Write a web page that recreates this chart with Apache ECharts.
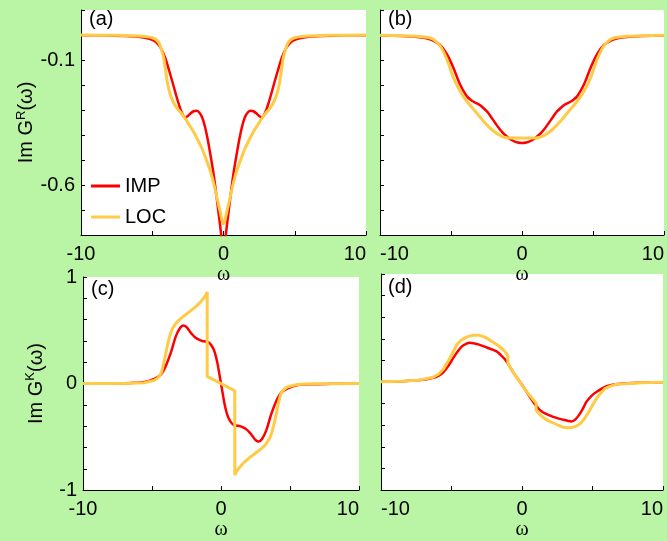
<!DOCTYPE html>
<html>
<head>
<meta charset="utf-8">
<script src="https://cdn.jsdelivr.net/npm/echarts@6/dist/echarts.min.js"></script>
<style>
html,body{margin:0;padding:0;background:#b9f5a4;}
#c{width:667px;height:541px;}
</style>
</head>
<body>
<div id="c"></div>
<script>
// ---- data (omega, value) ----
const a_IMP = [[-10,-0.001],[-8,-0.002],[-7,-0.004],[-6,-0.007],[-5.5,-0.011],[-5,-0.019],[-4.7,-0.03],[-4.4,-0.052],[-4.1,-0.09],[-3.8,-0.145],[-3.5,-0.205],[-3.2,-0.265],[-2.95,-0.307],[-2.7,-0.33],[-2.5,-0.324],[-2.3,-0.313],[-2.1,-0.305],[-1.9,-0.303],[-1.7,-0.31],[-1.5,-0.329],[-1.3,-0.367],[-1.1,-0.42],[-0.9,-0.485],[-0.7,-0.555],[-0.5,-0.64],[-0.35,-0.71],[-0.2,-0.78],[-0.1,-0.83],[0,-0.86],
  [0.1,-0.83],[0.2,-0.78],[0.35,-0.71],[0.5,-0.64],[0.7,-0.555],[0.9,-0.485],[1.1,-0.42],[1.3,-0.367],[1.5,-0.329],[1.7,-0.31],[1.9,-0.303],[2.1,-0.305],[2.3,-0.313],[2.5,-0.324],[2.7,-0.33],[2.95,-0.307],[3.2,-0.265],[3.5,-0.205],[3.8,-0.145],[4.1,-0.09],[4.4,-0.052],[4.7,-0.03],[5,-0.019],[5.5,-0.011],[6,-0.007],[7,-0.004],[8,-0.002],[10,-0.001]];
const a_LOC = [[-10,0],[-8,-0.001],[-7,-0.002],[-6,-0.004],[-5.5,-0.006],[-5,-0.011],[-4.7,-0.02],[-4.5,-0.035],[-4.35,-0.06],[-4.2,-0.09],[-4.07,-0.14],[-3.92,-0.195],[-3.75,-0.235],[-3.55,-0.265],[-3.3,-0.29],[-3.0,-0.31],[-2.7,-0.333],[-2.4,-0.36],[-2.1,-0.387],[-1.8,-0.42],[-1.5,-0.455],[-1.2,-0.5],[-0.94,-0.541],[-0.7,-0.59],[-0.5,-0.64],[-0.26,-0.70],[0,-0.756],
  [0.26,-0.70],[0.5,-0.64],[0.7,-0.59],[0.94,-0.541],[1.2,-0.5],[1.5,-0.455],[1.8,-0.42],[2.1,-0.387],[2.4,-0.36],[2.7,-0.333],[3.0,-0.31],[3.3,-0.29],[3.55,-0.265],[3.75,-0.235],[3.92,-0.195],[4.07,-0.14],[4.2,-0.09],[4.35,-0.06],[4.5,-0.035],[4.7,-0.02],[5,-0.011],[5.5,-0.006],[6,-0.004],[7,-0.002],[8,-0.001],[10,0]];
const b_IMP = [[-10,-0.002],[-8.5,-0.004],[-7.2,-0.009],[-6.6,-0.015],[-6.25,-0.023],[-5.77,-0.04],[-5.3,-0.076],[-4.84,-0.13],[-4.37,-0.197],[-3.9,-0.244],[-3.6,-0.26],[-3.31,-0.27],[-3.0,-0.279],[-2.72,-0.292],[-2.4,-0.31],[-2.14,-0.331],[-1.85,-0.355],[-1.55,-0.378],[-1.25,-0.397],[-0.96,-0.411],[-0.6,-0.424],[-0.3,-0.43],[0,-0.432],
  [0.3,-0.43],[0.6,-0.424],[0.96,-0.411],[1.25,-0.397],[1.55,-0.378],[1.85,-0.355],[2.14,-0.331],[2.4,-0.31],[2.72,-0.292],[3.0,-0.279],[3.31,-0.27],[3.6,-0.26],[3.9,-0.244],[4.37,-0.197],[4.84,-0.13],[5.3,-0.076],[5.77,-0.04],[6.25,-0.023],[6.6,-0.015],[7.2,-0.009],[8.5,-0.004],[10,-0.002]];
const b_LOC = [[-10,-0.001],[-8.5,-0.003],[-7.2,-0.006],[-6.6,-0.01],[-6.25,-0.017],[-5.77,-0.043],[-5.3,-0.096],[-4.84,-0.17],[-4.37,-0.224],[-3.9,-0.264],[-3.31,-0.304],[-2.72,-0.344],[-2.14,-0.378],[-1.55,-0.402],[-1.2,-0.41],[-0.95,-0.412],[0,-0.412],
  [0.95,-0.412],[1.2,-0.41],[1.55,-0.402],[2.14,-0.378],[2.72,-0.344],[3.31,-0.304],[3.9,-0.264],[4.37,-0.224],[4.84,-0.17],[5.3,-0.096],[5.77,-0.043],[6.25,-0.017],[6.6,-0.01],[7.2,-0.006],[8.5,-0.003],[10,-0.001]];
const c_IMP = [[-10,0.001],[-8,0.003],[-6.5,0.006],[-5.56,0.014],[-4.84,0.044],[-4.36,0.084],[-4.0,0.166],[-3.64,0.287],[-3.28,0.44],[-2.97,0.521],[-2.73,0.545],[-2.5,0.53],[-2.32,0.5],[-2.08,0.46],[-1.84,0.43],[-1.6,0.412],[-1.36,0.40],[-1.1,0.394],[-0.88,0.385],[-0.7,0.36],[-0.52,0.317],[-0.38,0.26],[-0.24,0.18],[-0.12,0.09],[0,0],
  [0.12,-0.09],[0.24,-0.18],[0.38,-0.26],[0.52,-0.317],[0.7,-0.36],[0.88,-0.385],[1.1,-0.394],[1.36,-0.40],[1.6,-0.412],[1.84,-0.43],[2.08,-0.46],[2.32,-0.5],[2.5,-0.53],[2.73,-0.545],[2.97,-0.521],[3.28,-0.44],[3.64,-0.287],[4.0,-0.166],[4.36,-0.084],[4.84,-0.044],[5.56,-0.014],[6.5,-0.006],[8,-0.003],[10,-0.001]];
const c_LOC = [[-10,0],[-8,0.001],[-6.5,0.003],[-5.56,0.008],[-4.84,0.03],[-4.6,0.05],[-4.45,0.07],[-4.3,0.11],[-4.15,0.19],[-4.0,0.287],[-3.88,0.36],[-3.76,0.424],[-3.64,0.475],[-3.52,0.515],[-3.35,0.55],[-3.16,0.582],[-2.92,0.61],[-2.68,0.636],[-2.2,0.682],[-1.72,0.734],[-1.45,0.77],[-1.24,0.804],[-1.1,0.83],[-1.0,0.86],[-1.0,0.068],
  [1.0,-0.068],[1.0,-0.86],[1.1,-0.83],[1.24,-0.804],[1.45,-0.77],[1.72,-0.734],[2.2,-0.682],[2.68,-0.636],[2.92,-0.61],[3.16,-0.582],[3.35,-0.55],[3.52,-0.515],[3.64,-0.475],[3.76,-0.424],[3.88,-0.36],[4.0,-0.287],[4.15,-0.19],[4.3,-0.11],[4.45,-0.07],[4.6,-0.05],[4.84,-0.03],[5.56,-0.008],[6.5,-0.003],[8,-0.001],[10,0]];
const d_IMP = [[-10,0.003],[-8.5,0.008],[-7.2,0.018],[-6.3,0.039],[-5.9,0.06],[-5.58,0.09],[-5.22,0.15],[-4.87,0.224],[-4.55,0.285],[-4.28,0.328],[-4.0,0.352],[-3.69,0.364],[-3.4,0.358],[-3.1,0.349],[-2.5,0.32],[-1.8,0.284],[-1.5,0.25],[-1.2,0.209],[-0.9,0.15],[-0.62,0.09],[-0.3,0.03],[0,-0.025],[0.3,-0.085],[0.57,-0.14],[0.8,-0.185],[1.04,-0.224],[1.3,-0.262],[1.63,-0.29],[2.22,-0.322],[2.93,-0.349],[3.3,-0.36],[3.52,-0.364],[3.75,-0.35],[4.0,-0.313],[4.3,-0.25],[4.59,-0.179],[4.95,-0.125],[5.3,-0.09],[6.0,-0.039],[6.95,-0.015],[8.5,-0.006],[10,-0.003]];
const d_LOC = [[-10,0.003],[-8.5,0.008],[-7.2,0.02],[-6.3,0.045],[-5.9,0.075],[-5.58,0.119],[-5.35,0.17],[-5.1,0.224],[-4.85,0.29],[-4.63,0.343],[-4.35,0.385],[-4.04,0.409],[-3.75,0.425],[-3.45,0.433],[-3.1,0.434],[-2.86,0.427],[-2.55,0.41],[-2.27,0.388],[-1.98,0.363],[-1.68,0.337],[-1.4,0.306],[-1.2,0.28],[-1.0,0.245],[-1.0,0.17],[-0.62,0.09],[-0.3,0.03],[0,-0.03],[0.4,-0.1],[0.8,-0.164],[1.0,-0.194],[1.0,-0.26],[1.25,-0.3],[1.51,-0.328],[1.85,-0.357],[2.22,-0.379],[2.6,-0.402],[2.93,-0.418],[3.2,-0.423],[3.52,-0.42],[3.8,-0.41],[4.11,-0.388],[4.4,-0.345],[4.7,-0.284],[5.0,-0.215],[5.3,-0.149],[5.6,-0.1],[5.89,-0.06],[6.3,-0.035],[6.7,-0.02],[8.5,-0.006],[10,-0.003]];

const panelLabels = ['(a)','(b)','(c)','(d)'];
const xTickLabels = [-10, 0, 10];
const yTickLabelsR = [-0.1, -0.6];
const yTickLabelsK = [-1, 0, 1];
const seriesNames = ['IMP','LOC'];

const RED = '#ff0000', YEL = '#ffca45';
const FONT = 'Liberation Sans';

const grids = [
  {left:81, top:10, width:285, height:225},
  {left:380, top:10, width:284, height:225},
  {left:83, top:277, width:276, height:219},
  {left:381, top:274, width:282, height:223}
];

const nameRich = {
  t:{fontSize:20, fontFamily:FONT, color:'#000', lineHeight:24, verticalAlign:'bottom'},
  s:{fontSize:13, fontFamily:FONT, color:'#000', lineHeight:14, verticalAlign:'bottom', padding:[0,0,9,0]}
};

function xAxis(i, minAlign){
  return {
    type:'value', gridIndex:i, min:-10, max:10, interval:5,
    axisLine:{onZero:false, lineStyle:{color:'#000', width:1}},
    axisTick:{inside:true, length:4, lineStyle:{color:'#000'}},
    splitLine:{show:false},
    axisLabel:{color:'#000', fontSize:20, fontFamily:FONT, margin:9,
      alignMinLabel:minAlign, alignMaxLabel:'right',
      formatter:v=> xTickLabels.some(t=>Math.abs(t-v)<1e-6) ? String(Math.round(v)) : ''},
    name:'ω', nameLocation:'middle', nameGap:25,
    nameTextStyle:{fontFamily:'Liberation Serif', fontSize:20, color:'#000'}
  };
}
function yAxisR(i, withLabels){
  return {
    type:'value', gridIndex:i, min:-0.8, max:0.1, interval:0.1,
    axisLine:{onZero:false, lineStyle:{color:'#000', width:1}},
    axisTick:{inside:true, length:4, lineStyle:{color:'#000'}},
    splitLine:{show:false},
    axisLabel:{show:withLabels, color:'#000', fontSize:20, fontFamily:FONT, margin:6,
      formatter:v=>{ const t = yTickLabelsR.find(t=>Math.abs(t-v)<1e-6); return t===undefined ? '' : t.toFixed(1); }},
    name: withLabels ? '{t|Im G}{s|R}{t|(ω)}' : '', nameLocation:'middle', nameGap:37, nameRotate:90,
    nameTextStyle:{color:'#000', rich:nameRich}
  };
}
function yAxisK(i, withLabels){
  return {
    type:'value', gridIndex:i, min:-1, max:1, interval:0.2,
    axisLine:{onZero:false, lineStyle:{color:'#000', width:1}},
    axisTick:{inside:true, length:4, lineStyle:{color:'#000'}},
    splitLine:{show:false},
    axisLabel:{show:withLabels, color:'#000', fontSize:20, fontFamily:FONT, margin:6,
      formatter:v=>{ const t = yTickLabelsK.find(t=>Math.abs(t-v)<1e-6); return t===undefined ? '' : String(t); }},
    name: withLabels ? '{t|Im G}{s|K}{t|(ω)}' : '', nameLocation:'middle', nameGap:37, nameRotate:90,
    nameTextStyle:{color:'#000', rich:nameRich}
  };
}
function line(name, data, i, color, width, smooth){
  return {type:'line', name, data, xAxisIndex:i, yAxisIndex:i, symbol:'none', showSymbol:false,
    smooth, lineStyle:{color, width}, itemStyle:{color}, z: name==='LOC'?3:2, animation:false};
}

const labelPos = [[89,9],[388,9],[91,279],[388,277]];

const chart = echarts.init(document.getElementById('c'), null, {renderer:'canvas'});
chart.setOption({
  backgroundColor:'#b9f5a4',
  animation:false,
  textStyle:{fontFamily:FONT},
  title: panelLabels.map((t,k)=>({text:t, left:labelPos[k][0], top:labelPos[k][1], padding:0,
    textStyle:{fontSize:20, fontWeight:'normal', fontFamily:FONT, color:'#000'}})),
  grid: grids.map(g=>Object.assign({show:true, backgroundColor:'#ffffff', borderWidth:0, containLabel:false}, g)),
  xAxis:[xAxis(0,'center'), xAxis(1,'left'), xAxis(2,'center'), xAxis(3,'left')],
  yAxis:[yAxisR(0,true), yAxisR(1,false), yAxisK(2,true), yAxisK(3,false)],
  legend:{data:seriesNames, orient:'vertical', left:91, top:176, icon:'rect', itemWidth:29, itemHeight:3, itemGap:11,
    textStyle:{fontSize:20, fontFamily:FONT, color:'#000'}, padding:0},
  series:[
    line('IMP', a_IMP, 0, RED, 2.5, 0.3),
    line('LOC', a_LOC, 0, YEL, 3, 0.3),
    line('IMP', b_IMP, 1, RED, 2.5, 0.3),
    line('LOC', b_LOC, 1, YEL, 3, 0.3),
    line('IMP', c_IMP, 2, RED, 2.5, 0.3),
    line('LOC', c_LOC, 2, YEL, 3, false),
    line('IMP', d_IMP, 3, RED, 2.5, 0.3),
    line('LOC', d_LOC, 3, YEL, 3, false)
  ]
});
</script>
</body>
</html>
